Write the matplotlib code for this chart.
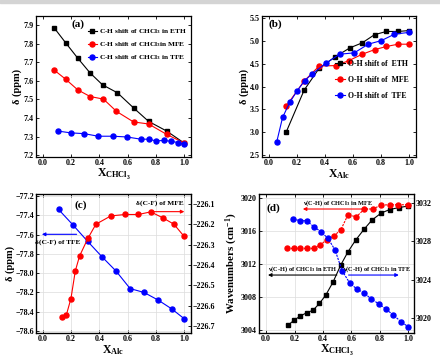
import matplotlib
matplotlib.use("Agg")
import matplotlib.pyplot as plt
from matplotlib.patches import Rectangle

plt.rcParams['font.family'] = ['Liberation Serif', 'DejaVu Serif']
plt.rcParams['font.weight'] = 'bold'
plt.rcParams['axes.labelweight'] = 'bold'
plt.rcParams['mathtext.fontset'] = 'custom'
plt.rcParams['mathtext.rm'] = 'Liberation Serif:bold'
plt.rcParams['mathtext.it'] = 'Liberation Serif:bold'
plt.rcParams['mathtext.bf'] = 'Liberation Serif:bold'

# ---- panel (a): C-H shift of CHCl3 vs X_CHCl3
a_eth_x = [0.078, 0.161, 0.246, 0.334, 0.422, 0.528, 0.642, 0.749, 0.877, 1.0]
a_eth_y = [7.887, 7.805, 7.723, 7.643, 7.579, 7.536, 7.455, 7.382, 7.330, 7.266]
a_mfe_x = [0.078, 0.161, 0.246, 0.334, 0.429, 0.521, 0.642, 0.749, 0.877, 1.0]
a_mfe_y = [7.659, 7.609, 7.552, 7.516, 7.502, 7.436, 7.379, 7.368, 7.312, 7.266]
a_tfe_x = [0.104, 0.197, 0.291, 0.391, 0.495, 0.595, 0.694, 0.749, 0.801, 0.855, 0.908, 0.955, 1.0]
a_tfe_y = [7.330, 7.320, 7.316, 7.302, 7.302, 7.298, 7.286, 7.286, 7.277, 7.279, 7.275, 7.268, 7.260]

# ---- panel (b): O-H shift vs X_Alc
b_eth_x = [0.123, 0.251, 0.358, 0.472, 0.578, 0.666, 0.754, 0.839, 0.922, 1.0]
b_eth_y = [3.00, 3.92, 4.40, 4.65, 4.85, 4.96, 5.14, 5.21, 5.21, 5.23]
b_mfe_x = [0.123, 0.251, 0.358, 0.479, 0.571, 0.666, 0.754, 0.839, 0.922, 1.0]
b_mfe_y = [3.57, 4.12, 4.45, 4.46, 4.57, 4.71, 4.81, 4.88, 4.93, 4.93]
b_tfe_x = [0.055, 0.097, 0.148, 0.2, 0.255, 0.306, 0.405, 0.505, 0.609, 0.709, 0.803, 0.896, 1.0]
b_tfe_y = [2.78, 3.32, 3.65, 3.90, 4.13, 4.27, 4.51, 4.71, 4.74, 4.93, 5.01, 5.15, 5.19]

# ---- panel (c): C-F shift vs X_Alc
c_tfe_x = [0.11, 0.212, 0.316, 0.418, 0.519, 0.618, 0.717, 0.818, 0.913, 1.0]
c_tfe_y = [-77.34, -77.50, -77.67, -77.83, -77.98, -78.16, -78.20, -78.28, -78.37, -78.47]
c_mfe_x = [0.134, 0.165, 0.198, 0.229, 0.259, 0.318, 0.375, 0.481, 0.582, 0.677, 0.764, 0.849, 0.929, 1.0]
c_mfe_y = [-226.655, -226.647, -226.565, -226.429, -226.356, -226.269, -226.199, -226.158,
           -226.151, -226.151, -226.138, -226.167, -226.199, -226.258]

# ---- panel (d): C-H stretching of CHCl3 vs X_CHCl3
d_eth_x = [0.153, 0.195, 0.24, 0.285, 0.33, 0.375, 0.42, 0.47, 0.525, 0.575, 0.63, 0.69,
           0.745, 0.81, 0.87, 0.935, 1.0]
d_eth_y = [3004.53, 3005.12, 3005.66, 3006.05, 3006.36, 3007.18, 3008.21, 3009.75, 3011.84,
           3013.42, 3014.87, 3016.2, 3017.3, 3018.15, 3018.57, 3018.81, 3018.99]
d_mfe_x = [0.15, 0.195, 0.24, 0.285, 0.335, 0.38, 0.425, 0.475, 0.525, 0.575, 0.635, 0.69,
           0.75, 0.81, 0.87, 0.93, 1.0]
d_mfe_y = [3013.85, 3013.85, 3013.85, 3013.85, 3013.85, 3014.3, 3014.85, 3015.35, 3016.1,
           3017.9, 3017.7, 3018.6, 3018.65, 3019.1, 3019.15, 3019.15, 3019.15]
d_tfe_x = [0.19, 0.24, 0.285, 0.335, 0.385, 0.435, 0.485, 0.535, 0.59, 0.64, 0.69, 0.74,
           0.795, 0.845, 0.895, 0.95, 1.0]
d_tfe_y = [3030.30, 3030.12, 3030.12, 3029.5, 3028.98, 3028.29, 3027.07, 3024.89, 3023.6,
           3023.0, 3022.6, 3021.97, 3021.45, 3020.9, 3020.3, 3019.6, 3019.08]

W, H = 440, 364
fig = plt.figure(figsize=(W / 100, H / 100), dpi=100)
fig.patches.append(Rectangle((0, 1 - 3 / H), 1, 3 / H, transform=fig.transFigure,
                             color='#d4d4d4', zorder=0))


def box(left, top, right, bottom):
    return [left / W, (H - bottom) / H, (right - left) / W, (bottom - top) / H]


def style(ax, right=True):
    ax.tick_params(direction='in', top=True, right=right, labelsize=5.8, length=2.5,
                   width=0.6, pad=1.5)
    for s in ax.spines.values():
        s.set_linewidth(0.9)
    for lab in ax.get_xticklabels() + ax.get_yticklabels():
        lab.set_fontweight('bold')


lw = 0.8
ms = 3.6
tick_x = [0.0, 0.2, 0.4, 0.6, 0.8, 1.0]
dotted = (0, (2, 1))

# (a)
ax = fig.add_axes(box(36, 16, 191, 157))
ax.plot(a_eth_x, a_eth_y, 's-', color='black', lw=lw, ms=ms - 0.4, label='C-H shift of CHCl$_3$ in ETH')
ax.plot(a_mfe_x, a_mfe_y, 'o-', color='red', lw=lw, ms=ms, label='C-H shift of CHCl$_3$in MFE')
ax.plot(a_tfe_x, a_tfe_y, 'o-', color='blue', lw=lw, ms=ms, label='C-H shift of CHCl$_3$ in TFE')
ax.set_xlim(-0.05, 1.05)
ax.set_ylim(7.19, 7.95)
ax.set_xticks(tick_x)
ax.set_yticks([7.2, 7.3, 7.4, 7.5, 7.6, 7.7, 7.8, 7.9])
ax.set_xlabel('X$_{\\mathregular{CHCl_3}}$', fontsize=8.5, labelpad=0)
ax.set_ylabel('δ (ppm)', fontsize=7.5, labelpad=1)
ax.text(0.27, 0.945, '(a)', transform=ax.transAxes, fontsize=8, fontweight='bold',
        ha='center', va='center')
ax.legend(loc='upper right', bbox_to_anchor=(1.0, 0.95), frameon=False, fontsize=5.3,
          handlelength=1.2, handletextpad=0.3, labelspacing=0.55, borderaxespad=0.2)
style(ax)

# (b)
ax = fig.add_axes(box(262, 16, 416, 157))
ax.plot(b_eth_x, b_eth_y, 's-', color='black', lw=lw, ms=ms - 0.4, label='O-H shift of  ETH')
ax.plot(b_mfe_x, b_mfe_y, 'o-', color='red', lw=lw, ms=ms, label='O-H shift of  MFE')
ax.plot(b_tfe_x, b_tfe_y, 'o-', color='blue', lw=lw, ms=ms, label='O-H shift of  TFE')
ax.set_xlim(-0.05, 1.05)
ax.set_ylim(2.45, 5.55)
ax.set_xticks(tick_x)
ax.set_yticks([2.5, 3.0, 3.5, 4.0, 4.5, 5.0, 5.5])
ax.set_xlabel('X$_{\\mathregular{Alc}}$', fontsize=8.5, labelpad=0)
ax.set_ylabel('δ (ppm)', fontsize=7.5, labelpad=1)
ax.text(0.085, 0.94, '(b)', transform=ax.transAxes, fontsize=8, fontweight='bold',
        ha='center', va='center')
ax.legend(loc='upper right', bbox_to_anchor=(0.98, 0.72), frameon=False, fontsize=5.6,
          handlelength=1.3, handletextpad=0.3, labelspacing=1.0, borderaxespad=0.2)
style(ax)

# (c)
ax = fig.add_axes(box(36, 194, 191, 333))
ax.grid(True, color='#dcdcdc', lw=0.5)
ax.plot(c_tfe_x, c_tfe_y, 'o-', color='blue', lw=lw, ms=ms)
ax.set_xlim(-0.05, 1.05)
ax.set_ylim(-78.62, -77.18)
ax.set_xticks(tick_x)
ax.set_yticks([-78.6, -78.4, -78.2, -78.0, -77.8, -77.6, -77.4, -77.2])
ax.set_xlabel('X$_{\\mathregular{Alc}}$', fontsize=8.5, labelpad=0)
ax.set_ylabel('δ (ppm)', fontsize=7.5, labelpad=0)
style(ax, right=False)
ax2 = ax.twinx()
ax2.plot(c_mfe_x, c_mfe_y, 'o-', color='red', lw=lw, ms=ms)
ax2.set_ylim(-226.735, -226.05)
ax2.set_yticks([-226.7, -226.6, -226.5, -226.4, -226.3, -226.2, -226.1])
ax2.tick_params(direction='in', labelsize=5.8, length=2.5, width=0.6, pad=1.5)
for lab in ax2.get_yticklabels():
    lab.set_fontweight('bold')
ax2.text(0.29, 0.92, '(c)', transform=ax2.transAxes, fontsize=8, fontweight='bold',
         ha='center', va='center')
ax2.text(0.80, 0.935, 'δ(C-F) of MFE', transform=ax2.transAxes, fontsize=5.3,
         ha='center', va='center')
ax2.annotate('', xy=(0.975, 0.873), xytext=(0.745, 0.873), xycoords='axes fraction',
             arrowprops=dict(arrowstyle='-|>', color='red', lw=0.8, mutation_scale=5))
ax2.annotate('', xy=(0.02, 0.71), xytext=(0.28, 0.71), xycoords='axes fraction',
             arrowprops=dict(arrowstyle='-|>', color='blue', lw=0.8, mutation_scale=5))
ax2.text(0.14, 0.655, 'δ(C-F) of TFE', transform=ax2.transAxes, fontsize=5.3,
         ha='center', va='center')

# (d)
ax = fig.add_axes(box(259, 194, 414, 333))
ax.grid(True, color='#dcdcdc', lw=0.5)
ax.plot(d_eth_x, d_eth_y, 's-', color='black', lw=lw, ms=ms - 0.4)
ax.plot(d_mfe_x, d_mfe_y, 'o', ls=dotted, color='red', lw=lw, ms=ms)
ax.set_xlim(-0.05, 1.04)
ax.set_ylim(3003.6, 3020.45)
ax.set_xticks(tick_x)
ax.set_yticks([3004, 3008, 3012, 3016, 3020])
ax.set_xlabel('X$_{\\mathregular{CHCl_3}}$', fontsize=8.5, labelpad=0)
ax.set_ylabel('Wavenumbers (cm$^{-1}$)', fontsize=7.8, labelpad=1)
style(ax, right=False)
ax2 = ax.twinx()
ax2.plot(d_tfe_x, d_tfe_y, 'o', ls=dotted, color='blue', lw=lw, ms=ms)
ax2.set_ylim(3018.44, 3032.9)
ax2.set_yticks([3020, 3024, 3028, 3032])
ax2.tick_params(direction='in', labelsize=5.8, length=2.5, width=0.6, pad=1.5)
for lab in ax2.get_yticklabels():
    lab.set_fontweight('bold')
ax2.text(0.09, 0.9, '(d)', transform=ax2.transAxes, fontsize=8, fontweight='bold',
         ha='center', va='center')
ax2.text(0.51, 0.935, 'ν(C-H) of CHCl$_3$ in MFE', transform=ax2.transAxes, fontsize=4.6,
         ha='center', va='center')
ax2.annotate('', xy=(0.265, 0.892), xytext=(0.72, 0.892), xycoords='axes fraction',
             arrowprops=dict(arrowstyle='-|>', color='red', lw=0.8, mutation_scale=5))
ax2.text(0.28, 0.46, 'ν(C-H) of CHCl$_3$ in ETH', transform=ax2.transAxes, fontsize=4.6,
         ha='center', va='center')
ax2.annotate('', xy=(0.04, 0.417), xytext=(0.52, 0.417), xycoords='axes fraction',
             arrowprops=dict(arrowstyle='-|>', color='black', lw=0.8, mutation_scale=5))
ax2.text(0.765, 0.46, 'ν(C-H) of CHCl$_3$ in TFE', transform=ax2.transAxes, fontsize=4.6,
         ha='center', va='center')
ax2.annotate('', xy=(0.92, 0.417), xytext=(0.56, 0.417), xycoords='axes fraction',
             arrowprops=dict(arrowstyle='-|>', color='blue', lw=0.8, mutation_scale=5))

fig.savefig('out.png', dpi=100)
